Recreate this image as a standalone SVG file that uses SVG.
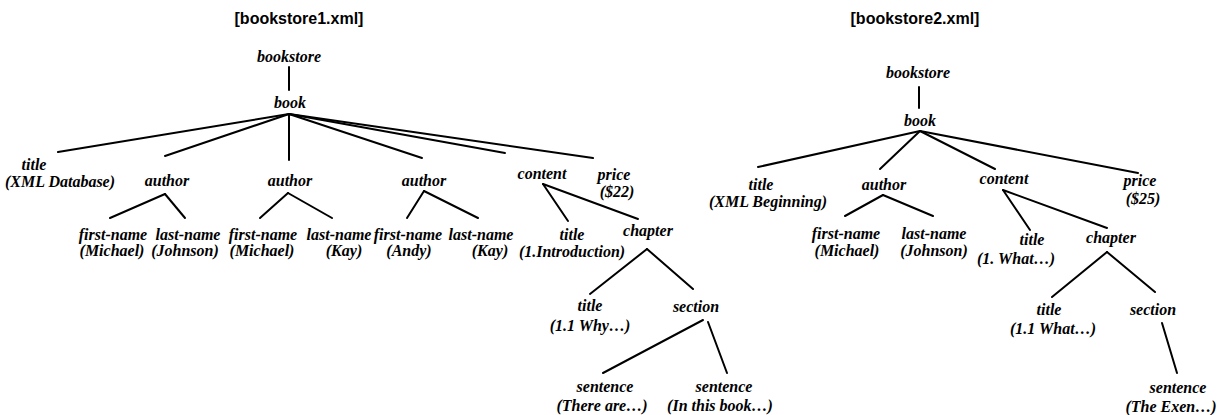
<svg xmlns="http://www.w3.org/2000/svg" width="1219" height="415" viewBox="0 0 1219 415">
<style>
.h{font-family:"Liberation Sans",Arial,sans-serif;font-weight:bold;font-size:16px;fill:#000;text-anchor:middle}
.n{font-family:"Liberation Serif","Times New Roman",serif;font-weight:bold;font-style:italic;font-size:16px;fill:#000;text-anchor:middle}
.e line{stroke:#000;stroke-width:2;stroke-linecap:round}
</style>
<rect width="1219" height="415" fill="#fff"/>
<text class="h" x="299" y="24">[bookstore1.xml]</text>
<text class="h" x="915" y="24">[bookstore2.xml]</text>
<g class="e" id="connectors">
<line x1="289" y1="67" x2="289" y2="90"/>
<line x1="289" y1="114" x2="58" y2="152"/>
<line x1="289" y1="114" x2="165" y2="156"/>
<line x1="289" y1="114" x2="289" y2="160"/>
<line x1="289" y1="114" x2="422" y2="158"/>
<line x1="289" y1="114" x2="505" y2="153"/>
<line x1="289" y1="114" x2="593" y2="158"/>
<line x1="165" y1="194" x2="110" y2="218"/>
<line x1="165" y1="194" x2="185" y2="218"/>
<line x1="288" y1="193" x2="260" y2="218"/>
<line x1="288" y1="193" x2="332" y2="218"/>
<line x1="424" y1="191" x2="407" y2="218"/>
<line x1="424" y1="191" x2="478" y2="218"/>
<line x1="543" y1="184" x2="568" y2="221"/>
<line x1="543" y1="184" x2="638" y2="219"/>
<line x1="647" y1="249" x2="590" y2="294"/>
<line x1="647" y1="249" x2="693" y2="289"/>
<line x1="703" y1="320" x2="603" y2="373"/>
<line x1="708" y1="322" x2="727" y2="373"/>
<line x1="919" y1="87" x2="919" y2="108"/>
<line x1="920" y1="131" x2="758" y2="167"/>
<line x1="920" y1="131" x2="880" y2="169"/>
<line x1="920" y1="131" x2="995" y2="169"/>
<line x1="920" y1="131" x2="1138" y2="173"/>
<line x1="883" y1="195" x2="845" y2="216"/>
<line x1="883" y1="195" x2="933" y2="216"/>
<line x1="1003" y1="190" x2="1030" y2="230"/>
<line x1="1003" y1="190" x2="1107" y2="228"/>
<line x1="1107" y1="252" x2="1052" y2="297"/>
<line x1="1107" y1="252" x2="1155" y2="292"/>
<line x1="1162" y1="323" x2="1177" y2="373"/>
</g>
<g id="L_bookstore"><text class="n" x="289" y="62">bookstore</text></g>
<g id="L_book"><text class="n" x="290" y="108">book</text></g>
<g id="L_title"><text class="n" x="34" y="170">title</text><text class="n" x="60" y="187">(XML Database)</text></g>
<g id="L_author1"><text class="n" x="167" y="186">author</text></g>
<g id="L_author2"><text class="n" x="290" y="186">author</text></g>
<g id="L_author3"><text class="n" x="424" y="186">author</text></g>
<g id="L_content"><text class="n" x="542" y="179">content</text></g>
<g id="L_price"><text class="n" x="614" y="180">price</text><text class="n" x="617" y="197">($22)</text></g>
<g id="L_fn1"><text class="n" x="113" y="240">first-name</text><text class="n" x="112" y="256">(Michael)</text></g>
<g id="L_ln1"><text class="n" x="188" y="240">last-name</text><text class="n" x="185" y="256">(Johnson)</text></g>
<g id="L_fn2"><text class="n" x="263" y="240">first-name</text><text class="n" x="262" y="256">(Michael)</text></g>
<g id="L_ln2"><text class="n" x="339" y="240">last-name</text><text class="n" x="344" y="256">(Kay)</text></g>
<g id="L_fn3"><text class="n" x="408" y="240">first-name</text><text class="n" x="409" y="256">(Andy)</text></g>
<g id="L_ln3"><text class="n" x="481" y="240">last-name</text><text class="n" x="490" y="256">(Kay)</text></g>
<g id="L_ctitle"><text class="n" x="572" y="240">title</text><text class="n" x="572" y="257">(1.Introduction)</text></g>
<g id="L_chapter"><text class="n" x="648" y="236">chapter</text></g>
<g id="L_chtitle"><text class="n" x="590" y="311">title</text><text class="n" x="590" y="331">(1.1 Why…)</text></g>
<g id="L_section"><text class="n" x="696" y="312">section</text></g>
<g id="L_sent1"><text class="n" x="605" y="392">sentence</text><text class="n" x="602" y="411">(There are…)</text></g>
<g id="L_sent2"><text class="n" x="724" y="392">sentence</text><text class="n" x="720" y="411">(In this book…)</text></g>
<g id="R_bookstore"><text class="n" x="918" y="78">bookstore</text></g>
<g id="R_book"><text class="n" x="920" y="126">book</text></g>
<g id="R_title"><text class="n" x="761" y="190">title</text><text class="n" x="768" y="207">(XML Beginning)</text></g>
<g id="R_author"><text class="n" x="884" y="190">author</text></g>
<g id="R_content"><text class="n" x="1004" y="184">content</text></g>
<g id="R_price"><text class="n" x="1140" y="186">price</text><text class="n" x="1143" y="204">($25)</text></g>
<g id="R_fn"><text class="n" x="846" y="239">first-name</text><text class="n" x="847" y="256">(Michael)</text></g>
<g id="R_ln"><text class="n" x="934" y="239">last-name</text><text class="n" x="934" y="256">(Johnson)</text></g>
<g id="R_ctitle"><text class="n" x="1032" y="245">title</text><text class="n" x="1016" y="264">(1. What…)</text></g>
<g id="R_chapter"><text class="n" x="1111" y="243">chapter</text></g>
<g id="R_chtitle"><text class="n" x="1049" y="315">title</text><text class="n" x="1053" y="334">(1.1 What…)</text></g>
<g id="R_section"><text class="n" x="1153" y="315">section</text></g>
<g id="R_sent"><text class="n" x="1178" y="393">sentence</text><text class="n" x="1171" y="412">(The Exen…)</text></g>
</svg>
